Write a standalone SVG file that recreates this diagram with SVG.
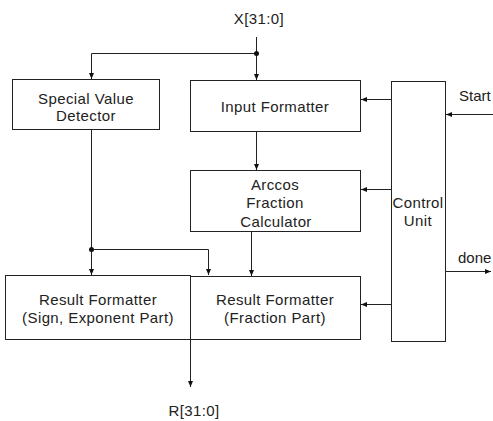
<svg xmlns="http://www.w3.org/2000/svg" width="493" height="421" viewBox="0 0 493 421">
<style>
.box{fill:#fff;stroke:#222;stroke-width:1}
.ln{fill:none;stroke:#222;stroke-width:1}
.t{font-family:"Liberation Sans",Arial,sans-serif;font-size:15px;fill:#222;text-anchor:middle;letter-spacing:0.4px}
.ts{font-family:"Liberation Sans",Arial,sans-serif;font-size:15px;fill:#222}
.dot{fill:#111}
</style>
<defs>
<marker id="ah" markerWidth="6" markerHeight="6" refX="6" refY="3" orient="auto" markerUnits="userSpaceOnUse">
<path d="M0,0.5 L6,3 L0,5.5 Z" fill="#111"/>
</marker>
</defs>
<rect width="493" height="421" fill="#fff"/>
<g id="nodes">
<g id="special">
<rect class="box" x="12.5" y="79.5" width="147" height="50"/>
<text class="t" x="86" y="104">Special Value</text>
<text class="t" x="86" y="121">Detector</text>
</g>
<g id="input">
<rect class="box" x="190.5" y="80.5" width="170" height="51"/>
<text class="t" x="275" y="112">Input Formatter</text>
</g>
<g id="arccos">
<rect class="box" x="190.5" y="170.5" width="170" height="61"/>
<text class="t" x="275" y="190">Arccos</text>
<text class="t" x="275" y="208">Fraction</text>
<text class="t" x="276" y="227">Calculator</text>
</g>
<g id="control">
<rect class="box" x="391.5" y="81.5" width="54" height="260"/>
<text class="t" x="418" y="208">Control</text>
<text class="t" x="418" y="226">Unit</text>
</g>
<g id="rfse">
<rect class="box" x="5.5" y="275.5" width="185" height="64"/>
<text class="t" x="98" y="305">Result Formatter</text>
<text class="t" x="98" y="323">(Sign, Exponent Part)</text>
</g>
<g id="rff">
<rect class="box" x="190.5" y="276.5" width="170" height="63"/>
<text class="t" x="275" y="305">Result Formatter</text>
<text class="t" x="275" y="323">(Fraction Part)</text>
</g>
</g>
<g id="labels">
<text class="t" x="259" y="24" letter-spacing="1">X[31:0]</text>
<text class="ts" x="459" y="101">Start</text>
<text class="ts" x="458" y="263">done</text>
<text class="t" x="194" y="416" letter-spacing="1">R[31:0]</text>
</g>
<g id="connectors">
<path class="ln" d="M256.5,37 V80" marker-end="url(#ah)"/>
<path class="ln" d="M256.5,53.5 H91.5 V79" marker-end="url(#ah)"/>
<circle class="dot" cx="256.5" cy="53.5" r="2.5"/>
<path class="ln" d="M256.5,132 V170" marker-end="url(#ah)"/>
<path class="ln" d="M251.5,232 V276" marker-end="url(#ah)"/>
<path class="ln" d="M91.5,130 V275" marker-end="url(#ah)"/>
<path class="ln" d="M91.5,249.5 H208.5 V275" marker-end="url(#ah)"/>
<circle class="dot" cx="91.5" cy="249.5" r="2.5"/>
<path class="ln" d="M391,99.5 H361" marker-end="url(#ah)"/>
<path class="ln" d="M391,189.5 H361" marker-end="url(#ah)"/>
<path class="ln" d="M391,304.5 H361" marker-end="url(#ah)"/>
<path class="ln" d="M493,114.5 H446" marker-end="url(#ah)"/>
<path class="ln" d="M446,271.5 H491" marker-end="url(#ah)"/>
<path class="ln" d="M190.5,340 V387" marker-end="url(#ah)"/>
</g>
</svg>
